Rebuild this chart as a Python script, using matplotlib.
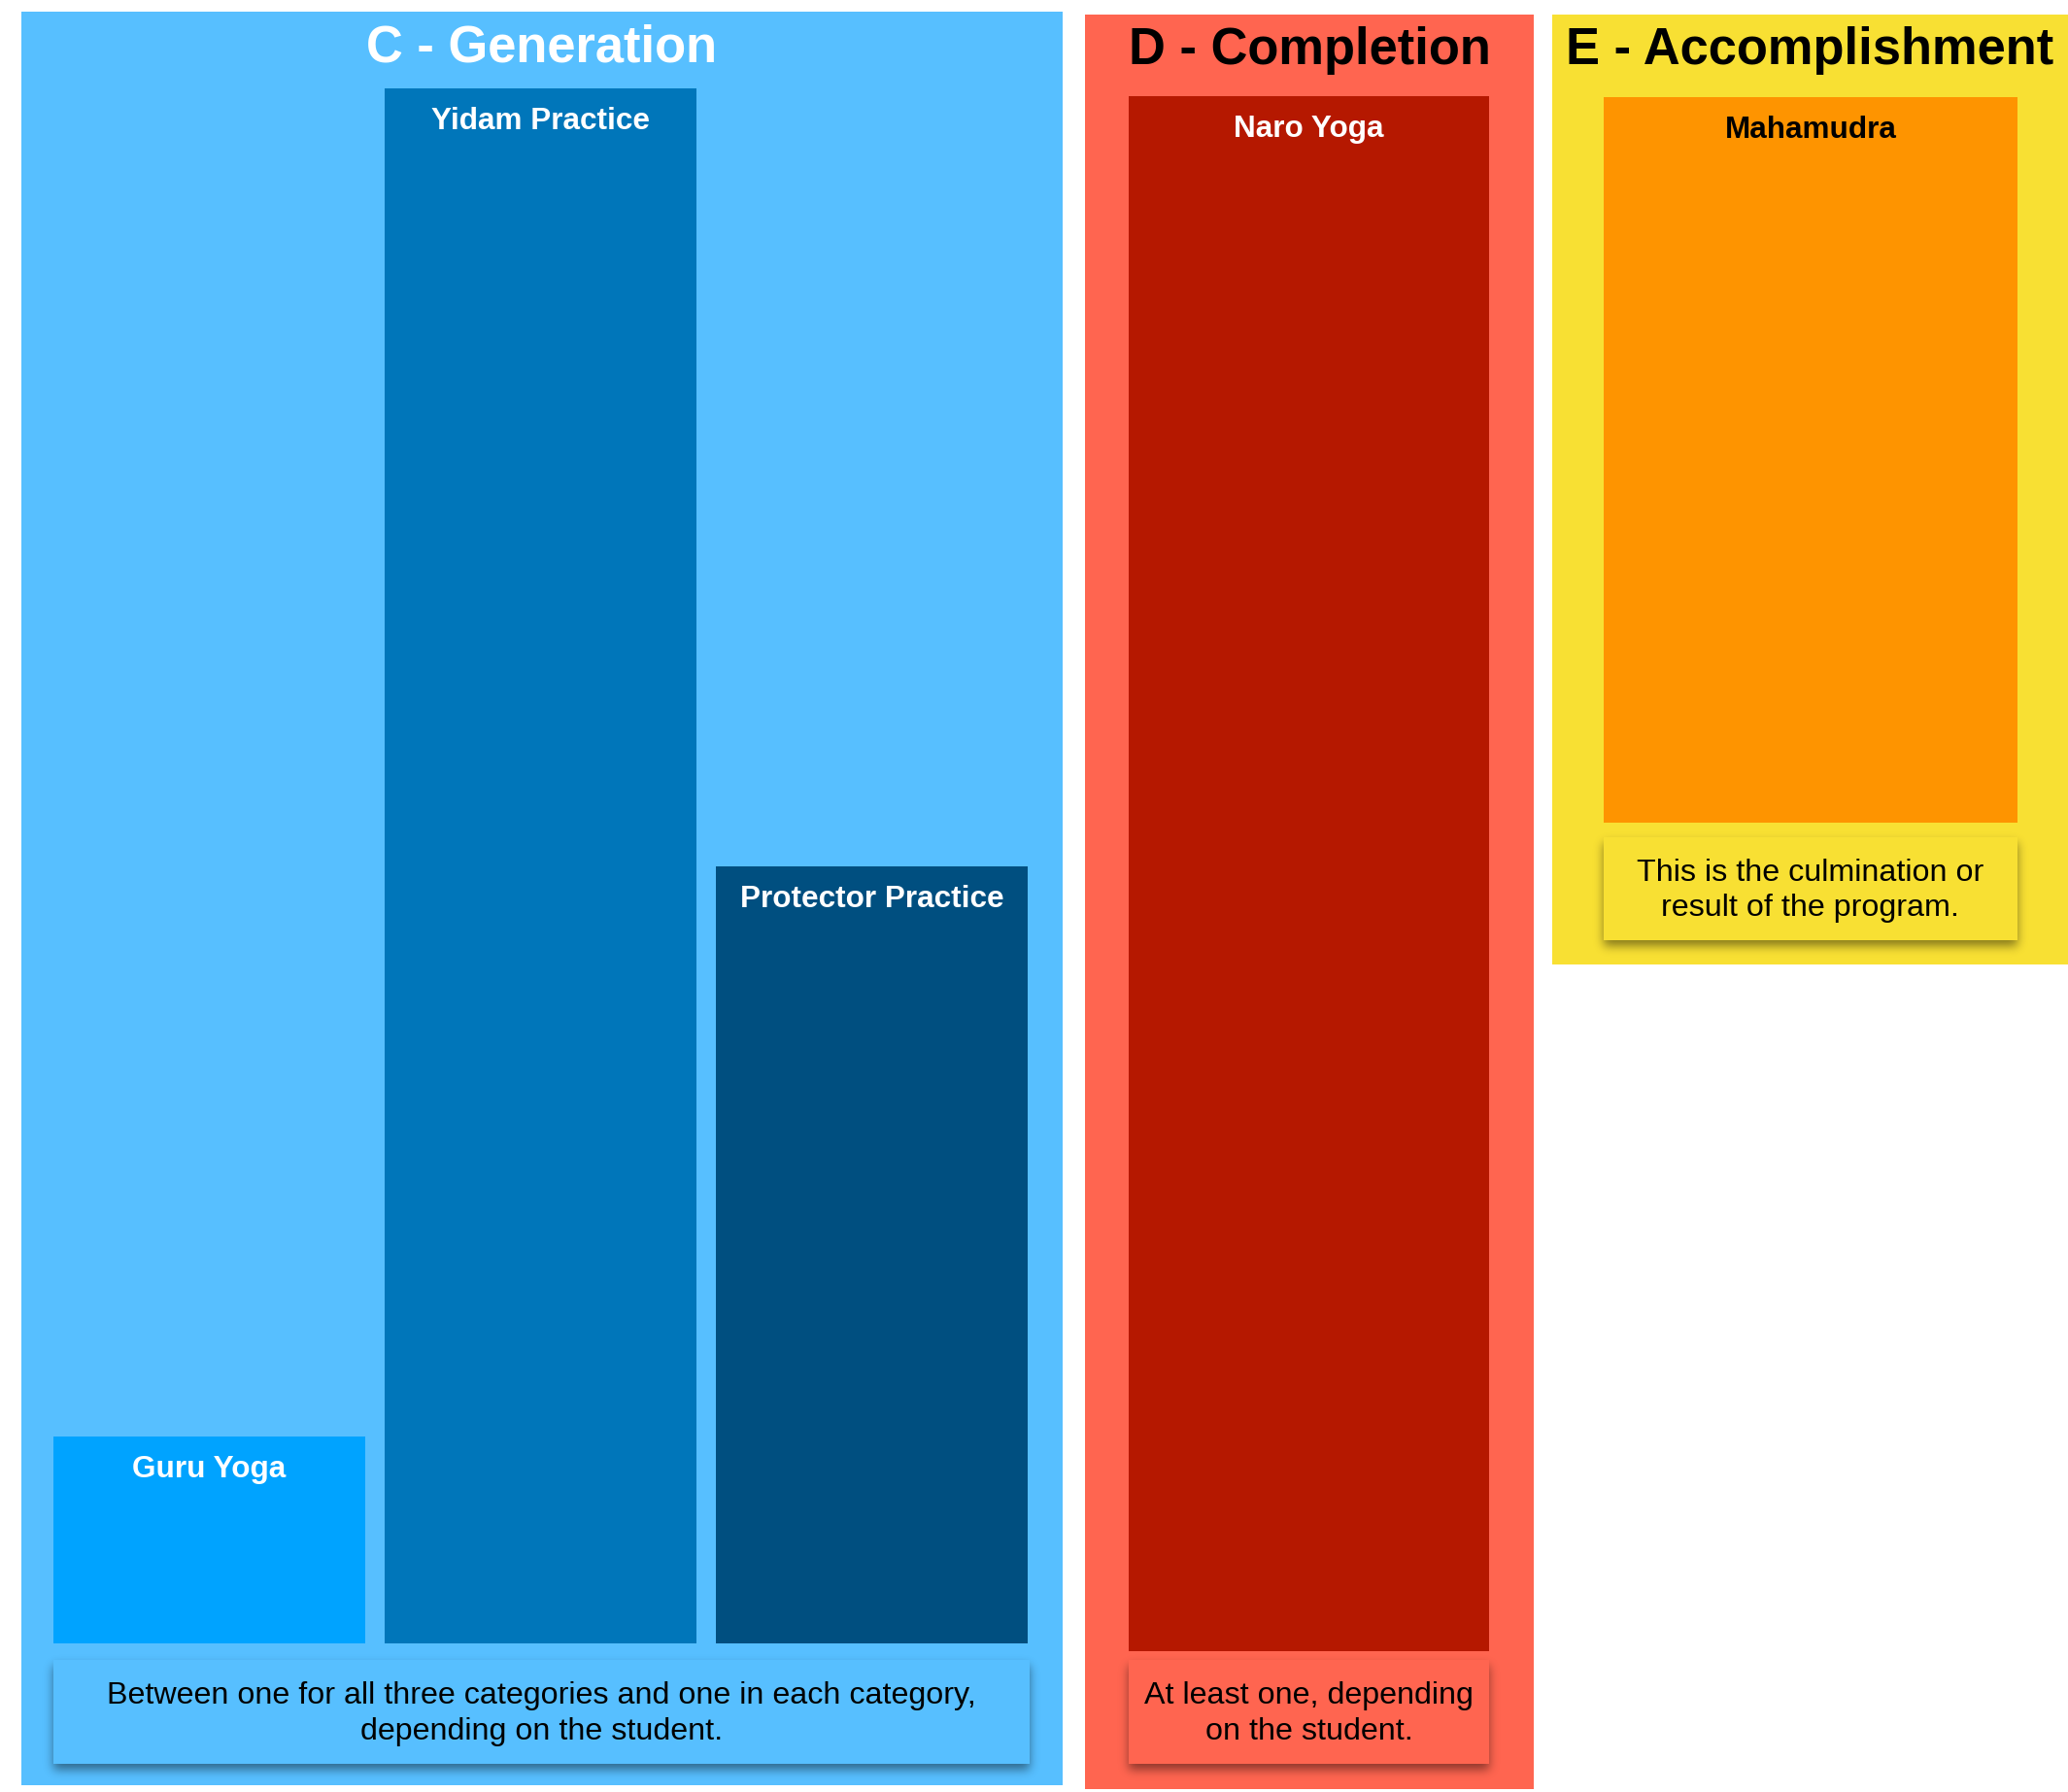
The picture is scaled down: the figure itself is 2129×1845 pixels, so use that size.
import matplotlib
matplotlib.use("Agg")
import matplotlib.pyplot as plt
import numpy as np
from matplotlib.patches import Rectangle

plt.rcParams['font.family'] = ['Liberation Sans', 'DejaVu Sans']

# ---- data ----
groups = ["C - Generation", "D - Completion", "E - Accomplishment"]
c_categories = ["Guru Yoga", "Yidam Practice", "Protector Practice"]
c_values = [2, 15, 7.5]
d_categories = ["Naro Yoga"]
d_values = [15]
e_categories = ["Mahamudra"]
e_values = [7]
notes = ["Between one for all three categories and one in each category,\ndepending on the student.",
         "At least one, depending\non the student.",
         "This is the culmination or\nresult of the program."]

# ---- style ----
W, H = 2129, 1845
panel_colors = ["#57BFFF", "#FF6550", "#F8E033"]
title_colors = ["white", "black", "black"]
c_colors = ["#00A3FF", "#0076BA", "#004F80"]
d_colors = ["#B51800"]
e_colors = ["#FE9400"]

fig = plt.figure(figsize=(W / 100, H / 100), dpi=100)
bg = fig.add_axes([0, 0, 1, 1])
bg.set_xlim(0, W)
bg.set_ylim(H, 0)
bg.axis('off')

# panels (x0, x1, y0, y1) in pixels
panels = [(22, 1094, 12, 1838), (1117, 1579, 15, 1842), (1598, 2129, 15, 993)]
title_pos = [(558, 64), (1348, 66), (1863, 66)]
for (x0, x1, y0, y1), col, name, tc, (tx, ty) in zip(panels, panel_colors, groups, title_colors, title_pos):
    bg.add_patch(Rectangle((x0, y0), x1 - x0, y1 - y0, color=col, lw=0, zorder=0))
    bg.text(tx, ty, name, color=tc, fontsize=37.8, fontweight='bold', ha='center', va='baseline', zorder=5)


def gauss_blur(a, sigma):
    r = int(3 * sigma)
    k = np.exp(-0.5 * (np.arange(-r, r + 1) / sigma) ** 2)
    k /= k.sum()
    a = np.apply_along_axis(lambda m: np.convolve(m, k, mode='same'), 0, a)
    a = np.apply_along_axis(lambda m: np.convolve(m, k, mode='same'), 1, a)
    return a


# notes with soft shadow
note_boxes = [(55, 1060, 1709, 1816), (1162, 1533, 1709, 1816), (1651, 2077, 862, 968)]
for (x0, x1, y0, y1), col, txt in zip(note_boxes, panel_colors, notes):
    m = 30
    ex0, ex1, ey0, ey1 = x0 - m, x1 + m, y0 - m, y1 + m
    mask = np.zeros((ey1 - ey0, ex1 - ex0))
    mask[m + 6:m + 6 + (y1 - y0), m:m + (x1 - x0)] = 1.0
    mask = gauss_blur(mask, 5.0)
    rgba = np.zeros(mask.shape + (4,))
    rgba[..., 3] = mask * 0.45
    bg.imshow(rgba, extent=(ex0, ex1, ey1, ey0), zorder=1, interpolation='bilinear', aspect='auto')
    bg.add_patch(Rectangle((x0, y0), x1 - x0, y1 - y0, color=col, lw=0, zorder=2))
    bg.text((x0 + x1) / 2, (y0 + y1) / 2 + 2, txt, ha='center', va='center', fontsize=23.2,
            color='black', linespacing=1.3, zorder=3)
bg.set_xlim(0, W)
bg.set_ylim(H, 0)


def frac_axes(x0, x1, ytop, ybot):
    return fig.add_axes([x0 / W, 1 - ybot / H, (x1 - x0) / W, (ybot - ytop) / H])


def draw_group(ax, cats, vals, cols, label_colors, inverted=False):
    xs = list(range(len(cats)))
    ax.bar(xs, vals, width=0.94 if len(cats) > 1 else 1.0, color=cols, lw=0)
    ax.set_xlim(-0.5, len(cats) - 0.5)
    ax.axis('off')
    for x, v, name, lc in zip(xs, vals, cats, label_colors):
        ytop = 0 if inverted else v
        ax.annotate(name, xy=(x, ytop), xytext=(0, -42 * 0.72), textcoords='offset points',
                    ha='center', va='baseline', fontsize=22.7, fontweight='bold', color=lc)


unit = 1601 / 15.0
# C group: baseline at 1692
axc = frac_axes(45, 1068, 1692 - 15 * unit, 1692)
axc.set_ylim(0, 15)
draw_group(axc, c_categories, c_values, c_colors, ["white"] * 3)

# D group: baseline at 1700
axd = frac_axes(1162, 1533, 1700 - 15 * unit, 1700)
axd.set_ylim(0, 15)
draw_group(axd, d_categories, d_values, d_colors, ["white"])

# E group: top aligned at 100, hanging down
axe = frac_axes(1651, 2077, 100, 100 + 15 * unit)
axe.set_ylim(15, 0)
draw_group(axe, e_categories, e_values, e_colors, ["black"], inverted=True)

fig.savefig("out.png", dpi=100)
